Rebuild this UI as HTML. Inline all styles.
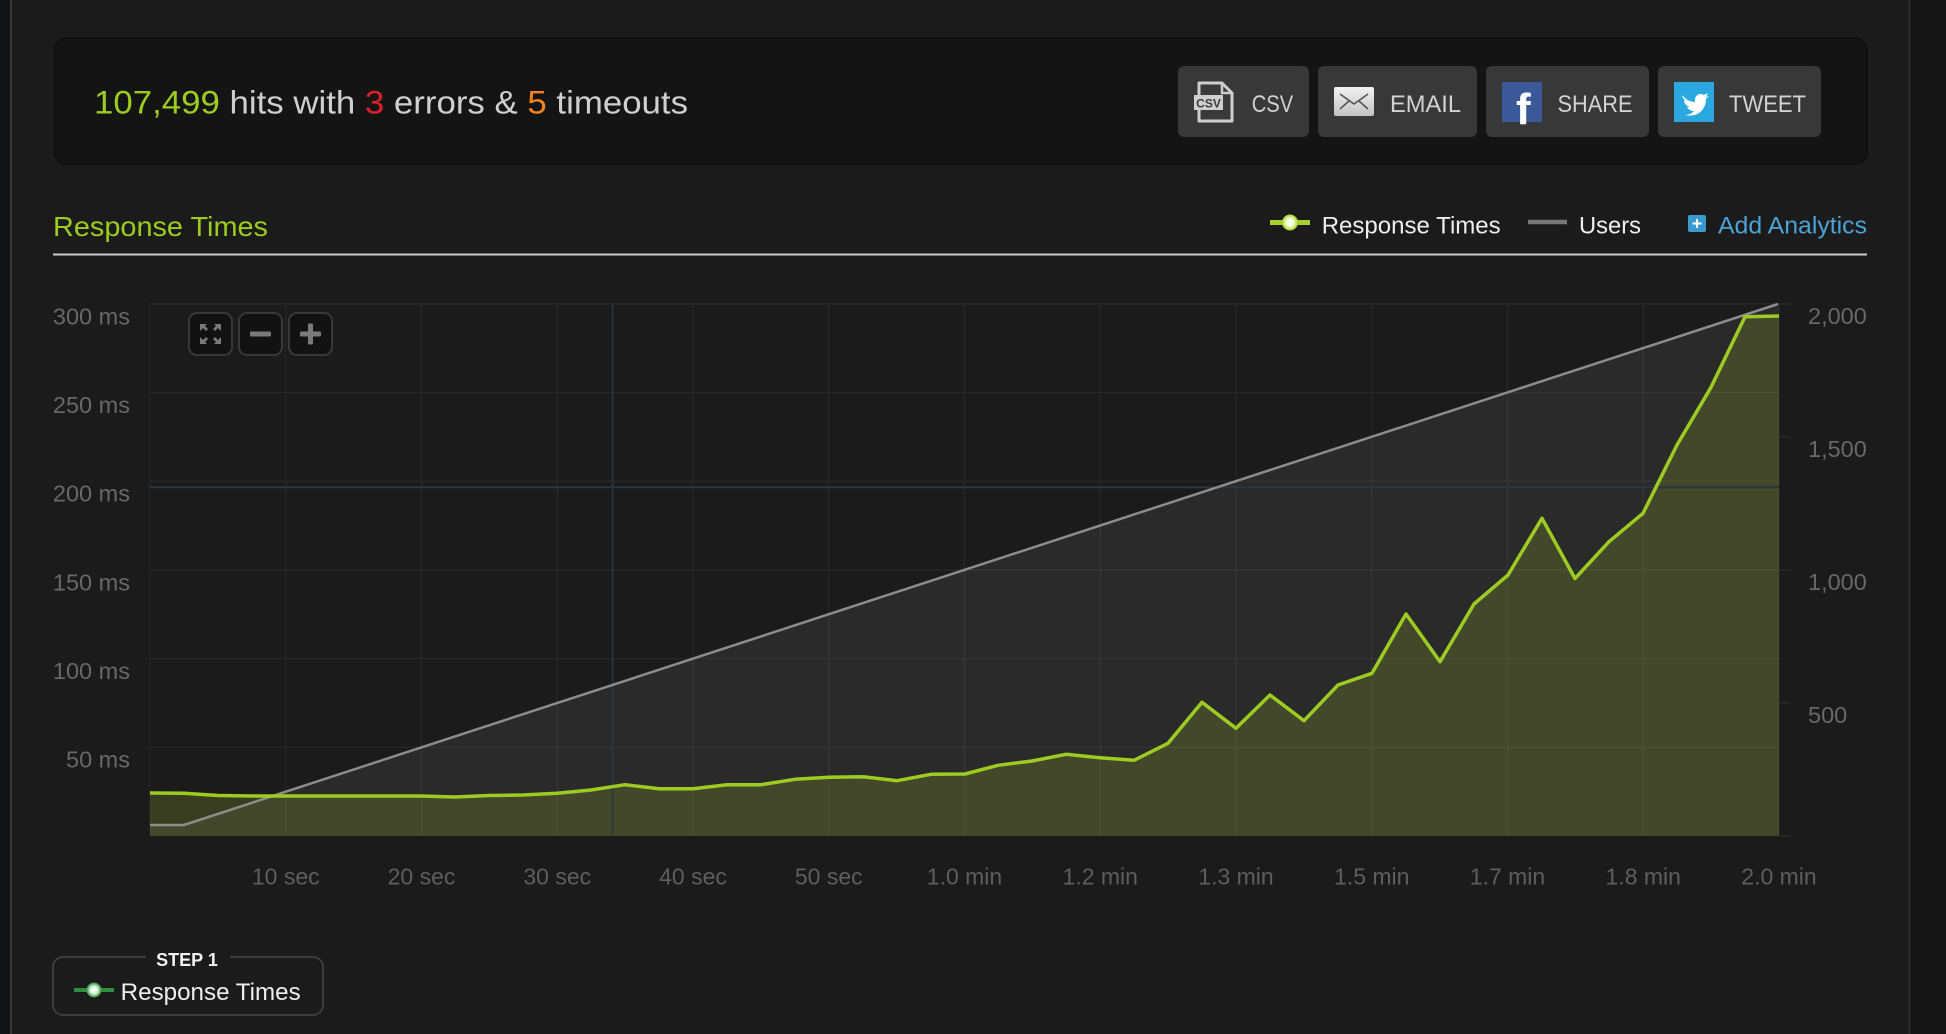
<!DOCTYPE html>
<html>
<head>
<meta charset="utf-8">
<style>
html,body{margin:0;padding:0;background:#1b1b1b;width:1946px;height:1034px;overflow:hidden;}
svg{display:block;font-family:"Liberation Sans",sans-serif;}
</style>
</head>
<body>
<svg width="1946" height="1034" viewBox="0 0 1946 1034" xmlns="http://www.w3.org/2000/svg">
  <!-- page frame -->
  <rect x="0" y="0" width="1946" height="1034" fill="#1b1b1b"/>
  <rect x="0" y="0" width="10" height="1034" fill="#121417"/>
  <rect x="10" y="0" width="2" height="1034" fill="#3a3a3a"/>
  <rect x="1910" y="0" width="36" height="1034" fill="#151515"/>
  <rect x="1908.5" y="0" width="2" height="1034" fill="#2e2e2e"/>

  <!-- summary box -->
  <rect x="54.5" y="38" width="1812.5" height="126" rx="12" fill="#141414" stroke="#101010" stroke-width="2"/>
  <text x="94" y="113.5" font-size="32" textLength="594" lengthAdjust="spacingAndGlyphs" fill="#cfcfcf"><tspan fill="#9bcc1f">107,499</tspan> hits with <tspan fill="#dd1f2b">3</tspan> errors &amp; <tspan fill="#f58220">5</tspan> timeouts</text>

  <!-- buttons -->
  <rect x="1178" y="66" width="131" height="71" rx="6" fill="#383838"/>
  <rect x="1318" y="66" width="159" height="71" rx="6" fill="#383838"/>
  <rect x="1486" y="66" width="163" height="71" rx="6" fill="#383838"/>
  <rect x="1658" y="66" width="163" height="71" rx="6" fill="#383838"/>

  <defs>
    <linearGradient id="eg" x1="0" y1="0" x2="0" y2="1">
      <stop offset="0" stop-color="#f2f2f2"/>
      <stop offset="1" stop-color="#c4c4c4"/>
    </linearGradient>
    <radialGradient id="gl" cx="0.5" cy="0.5" r="0.5">
      <stop offset="0" stop-color="#ffffff"/>
      <stop offset="0.45" stop-color="#f4ffd0"/>
      <stop offset="1" stop-color="#a6d12a"/>
    </radialGradient>
    <radialGradient id="gl2" cx="0.5" cy="0.5" r="0.5">
      <stop offset="0" stop-color="#ffffff"/>
      <stop offset="0.45" stop-color="#e0ffe4"/>
      <stop offset="1" stop-color="#2f8f3e"/>
    </radialGradient>
  </defs>

  <!-- CSV icon -->
  <path d="M1199 83 L1222 83 L1232 93 L1232 121 L1199 121 Z" fill="#3a3a3a" stroke="#cfcfcf" stroke-width="3" stroke-linejoin="round"/>
  <path d="M1222 83 L1222 93 L1232 93" fill="none" stroke="#cfcfcf" stroke-width="2.5"/>
  <rect x="1194" y="95" width="29" height="15" fill="#cfcfcf"/>
  <text x="1208.5" y="107.5" font-size="12" font-weight="bold" text-anchor="middle" fill="#3a3a3a">CSV</text>
  <text x="1251.7" y="112" font-size="24" textLength="41.5" lengthAdjust="spacingAndGlyphs" fill="#d2d2d2">CSV</text>

  <!-- Email icon -->
  <rect x="1334" y="87" width="40" height="29" rx="2" fill="url(#eg)"/>
  <path d="M1340 94 L1354 104 L1368 94 M1340 109 L1349 101 M1368 109 L1359 101" fill="none" stroke="#555" stroke-width="1.6"/>
  <text x="1390" y="112" font-size="24" textLength="71" lengthAdjust="spacingAndGlyphs" fill="#d2d2d2">EMAIL</text>

  <!-- Facebook icon -->
  <rect x="1502" y="82" width="40" height="40" fill="#3b5998"/>
  <text x="1516" y="124" font-size="44" font-weight="bold" fill="#ffffff">f</text>
  <text x="1557.5" y="112" font-size="24" textLength="75" lengthAdjust="spacingAndGlyphs" fill="#d2d2d2">SHARE</text>

  <!-- Twitter icon -->
  <rect x="1674" y="82" width="40" height="40" fill="#2aa9e0"/>
  <path d="M1682 95 C1686 100 1691 102 1695 102 C1694 96 1699 92 1704 95 L1708 93 L1706 97 L1709 96 L1706 99 C1706 110 1697 118 1685 115 C1689 115 1692 113 1694 111 C1690 111 1688 109 1687 107 L1690 107 C1686 106 1684 103 1684 100 L1687 101 C1683 99 1682 97 1682 95 Z" fill="#ffffff"/>
  <text x="1729" y="112" font-size="24" textLength="77" lengthAdjust="spacingAndGlyphs" fill="#d2d2d2">TWEET</text>

  <!-- section title -->
  <text x="53" y="236" font-size="28" textLength="215" lengthAdjust="spacingAndGlyphs" fill="#9bcc1f">Response Times</text>

  <!-- header legend -->
  <line x1="1270" y1="222.5" x2="1310" y2="222.5" stroke="#a6d12a" stroke-width="5"/>
  <circle cx="1290" cy="222.5" r="8" fill="url(#gl)"/>
  <text x="1321.7" y="233.3" font-size="24" textLength="179" lengthAdjust="spacingAndGlyphs" fill="#eeeeee">Response Times</text>
  <line x1="1528" y1="222" x2="1567" y2="222" stroke="#777777" stroke-width="4.5"/>
  <text x="1579" y="233.3" font-size="24" textLength="62" lengthAdjust="spacingAndGlyphs" fill="#eeeeee">Users</text>
  <rect x="1688" y="215" width="18" height="17" rx="2" fill="#3a9ad0"/>
  <path d="M1697 219 L1697 228 M1692.5 223.5 L1701.5 223.5" stroke="#ffffff" stroke-width="2"/>
  <text x="1718" y="233.3" font-size="24" textLength="149" lengthAdjust="spacingAndGlyphs" fill="#4ba3d6">Add Analytics</text>

  <rect x="53" y="253.5" width="1814" height="2" fill="#cccccc"/>

  <!-- gridlines -->
  <g stroke="#282828" stroke-width="1.2">
    <line x1="150" y1="304" x2="1779" y2="304"/>
    <line x1="150" y1="392.7" x2="1779" y2="392.7"/>
    <line x1="150" y1="481.3" x2="1779" y2="481.3"/>
    <line x1="150" y1="570" x2="1779" y2="570"/>
    <line x1="150" y1="658.7" x2="1779" y2="658.7"/>
    <line x1="150" y1="747.3" x2="1779" y2="747.3"/>
    <line x1="150" y1="304" x2="150" y2="836"/>
    <line x1="285.75" y1="304" x2="285.75" y2="836"/>
    <line x1="421.5" y1="304" x2="421.5" y2="836"/>
    <line x1="557.25" y1="304" x2="557.25" y2="836"/>
    <line x1="693" y1="304" x2="693" y2="836"/>
    <line x1="828.75" y1="304" x2="828.75" y2="836"/>
    <line x1="964.5" y1="304" x2="964.5" y2="836"/>
    <line x1="1100.25" y1="304" x2="1100.25" y2="836"/>
    <line x1="1236" y1="304" x2="1236" y2="836"/>
    <line x1="1371.75" y1="304" x2="1371.75" y2="836"/>
    <line x1="1507.5" y1="304" x2="1507.5" y2="836"/>
    <line x1="1643.25" y1="304" x2="1643.25" y2="836"/>
    <line x1="1779" y1="304" x2="1779" y2="836"/>
  </g>
  <!-- right axis ticks -->
  <g stroke="#2e2e2e" stroke-width="1.2">
    <line x1="1779" y1="304" x2="1790" y2="304"/>
    <line x1="1779" y1="437" x2="1790" y2="437"/>
    <line x1="1779" y1="570" x2="1790" y2="570"/>
    <line x1="1779" y1="703" x2="1790" y2="703"/>
    <line x1="1779" y1="836" x2="1790" y2="836"/>
  </g>

  <!-- users fill -->
  <polygon points="150,825 184,825 1778,304 1779,304 1779,836 150,836" fill="#ffffff" fill-opacity="0.065"/>

  <!-- response fill -->
  <polygon points="150,793 184,793.3 218,795.5 252,796 286,796 320,796 354,796 388,796 421,796 455,797 489,795.5 523,795 557,793.3 591,790 625,784.7 659,788.7 693,788.7 727,784.7 761,784.7 795,779.3 829,777.3 863,776.7 897,780.7 931,774.3 965,774 998,765.3 1032,761 1066,754.3 1100,757.7 1134,760.3 1168,743.3 1202,702.3 1236,728.3 1270,695 1304,720.7 1338,685 1372,673.3 1406,614 1440,661.7 1474,604 1508,575 1542,518.3 1575,578.5 1609,541.7 1643,513.3 1677,445 1711,387.3 1745,316.7 1779,316 1779,836 150,836" fill="#8ea22e" fill-opacity="0.25"/>

  <!-- crosshair -->
  <line x1="150" y1="487.3" x2="1779" y2="487.3" stroke="#2a3740" stroke-width="2"/>
  <line x1="612.6" y1="304" x2="612.6" y2="836" stroke="#2a3740" stroke-width="1.6"/>

  <!-- users line -->
  <polyline points="150,825 184,825 1778,304" fill="none" stroke="#8c8c8c" stroke-width="2.5" stroke-linejoin="round"/>

  <!-- response line -->
  <polyline points="150,793 184,793.3 218,795.5 252,796 286,796 320,796 354,796 388,796 421,796 455,797 489,795.5 523,795 557,793.3 591,790 625,784.7 659,788.7 693,788.7 727,784.7 761,784.7 795,779.3 829,777.3 863,776.7 897,780.7 931,774.3 965,774 998,765.3 1032,761 1066,754.3 1100,757.7 1134,760.3 1168,743.3 1202,702.3 1236,728.3 1270,695 1304,720.7 1338,685 1372,673.3 1406,614 1440,661.7 1474,604 1508,575 1542,518.3 1575,578.5 1609,541.7 1643,513.3 1677,445 1711,387.3 1745,316.7 1779,316" fill="none" stroke="#9ccc22" stroke-width="3.5" stroke-linejoin="round"/>

  <!-- zoom buttons -->
  <rect x="189" y="313" width="43" height="42" rx="8" fill="#121212" stroke="#383838" stroke-width="2"/>
  <rect x="239" y="313" width="43" height="42" rx="8" fill="#121212" stroke="#383838" stroke-width="2"/>
  <rect x="289" y="313" width="43" height="42" rx="8" fill="#121212" stroke="#383838" stroke-width="2"/>
  <g fill="#7a7a7a">
    <path d="M200 324 L207 324 L205 326 L208 329 L206 331 L203 328 L200 331 Z"/>
    <path d="M221 324 L214 324 L216 326 L213 329 L215 331 L218 328 L221 331 Z"/>
    <path d="M200 344 L207 344 L205 342 L208 339 L206 337 L203 340 L200 337 Z"/>
    <path d="M221 344 L214 344 L216 342 L213 339 L215 337 L218 340 L221 337 Z"/>
    <rect x="250" y="331.5" width="21" height="5" rx="1"/>
    <rect x="300" y="331.5" width="21" height="5" rx="1"/>
    <rect x="308" y="323.5" width="5" height="21" rx="1"/>
  </g>

  <!-- left axis labels -->
  <g font-size="23.5" fill="#686868" text-anchor="end">
    <text x="130" y="324.3">300 ms</text>
    <text x="130" y="413">250 ms</text>
    <text x="130" y="501.7">200 ms</text>
    <text x="130" y="590.3">150 ms</text>
    <text x="130" y="679">100 ms</text>
    <text x="130" y="767.7">50 ms</text>
  </g>
  <!-- right axis labels -->
  <g font-size="23.5" fill="#686868">
    <text x="1808" y="324">2,000</text>
    <text x="1808" y="457">1,500</text>
    <text x="1808" y="590">1,000</text>
    <text x="1808" y="723">500</text>
  </g>
  <!-- x axis labels -->
  <g font-size="23" fill="#5e5e5e" text-anchor="middle">
    <text x="285.75" y="884.3">10 sec</text>
    <text x="421.5" y="884.3">20 sec</text>
    <text x="557.25" y="884.3">30 sec</text>
    <text x="693" y="884.3">40 sec</text>
    <text x="828.75" y="884.3">50 sec</text>
    <text x="964.5" y="884.3">1.0 min</text>
    <text x="1100.25" y="884.3">1.2 min</text>
    <text x="1236" y="884.3">1.3 min</text>
    <text x="1371.75" y="884.3">1.5 min</text>
    <text x="1507.5" y="884.3">1.7 min</text>
    <text x="1643.25" y="884.3">1.8 min</text>
    <text x="1779" y="884.3">2.0 min</text>
  </g>

  <!-- bottom step legend -->
  <rect x="53" y="957" width="270" height="58" rx="10" fill="none" stroke="#3c3c3c" stroke-width="2"/>
  <rect x="146" y="950" width="84" height="12" fill="#1b1b1b"/>
  <text x="187" y="966" font-size="18" font-weight="bold" text-anchor="middle" fill="#f2f2f2">STEP 1</text>
  <line x1="74" y1="990" x2="114" y2="990" stroke="#2f8f3e" stroke-width="4"/>
  <circle cx="94" cy="990" r="7.5" fill="url(#gl2)"/>
  <text x="120.7" y="1000" font-size="24" textLength="180" lengthAdjust="spacingAndGlyphs" fill="#eeeeee">Response Times</text>
</svg>
</body>
</html>
